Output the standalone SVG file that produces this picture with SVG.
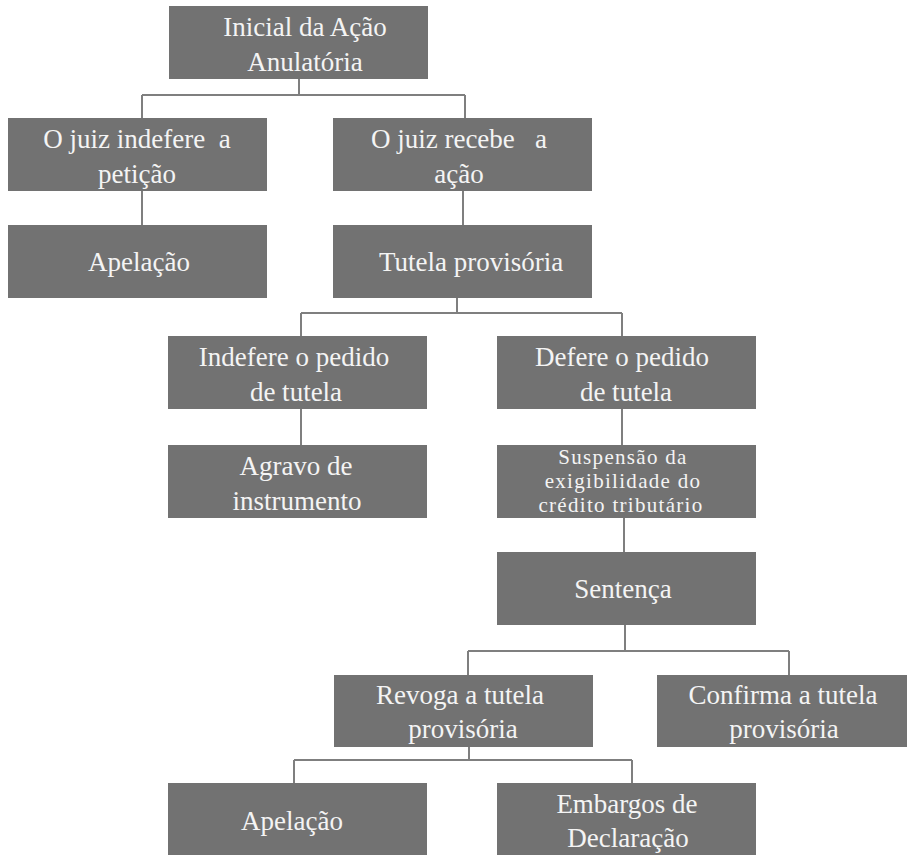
<svg xmlns="http://www.w3.org/2000/svg" width="907" height="855" viewBox="0 0 907 855">
<style>
.box{fill:#727272}
.t{font-family:"Liberation Serif","DejaVu Serif",serif;font-size:27px;fill:#f4f4f4;text-anchor:middle;white-space:pre}
.s{font-family:"Liberation Serif","DejaVu Serif",serif;font-size:21px;fill:#f4f4f4;text-anchor:middle;letter-spacing:1.3px}
.c{fill:none;stroke:#7f7f7f;stroke-width:2}
</style>
<rect width="907" height="855" fill="#ffffff"/>
<g id="connectors" class="c">
<path d="M299,79V95M142,95H465M142,95V118M465,95V118"/>
<path d="M142,191V225"/>
<path d="M463,191V225"/>
<path d="M457,298V313M301,313H622M301,313V336M622,313V336"/>
<path d="M301,409V445"/>
<path d="M622,409V445"/>
<path d="M624,518V552"/>
<path d="M625,625V651M468,651H789M468,651V675M789,651V675"/>
<path d="M469,747V760M294,760H632M294,760V783M632,760V783"/>
</g>
<g id="n1"><rect class="box" x="169" y="6" width="259" height="73"/><text class="t" x="305" y="36">Inicial da Ação</text><text class="t" x="305" y="71">Anulatória</text></g>
<g id="n2"><rect class="box" x="8" y="118" width="259" height="73"/><text class="t" x="137" y="148" xml:space="preserve">O juiz indefere  a</text><text class="t" x="137" y="183">petição</text></g>
<g id="n3"><rect class="box" x="333" y="118" width="259" height="73"/><text class="t" x="459" y="148" xml:space="preserve">O juiz recebe   a</text><text class="t" x="459" y="183">ação</text></g>
<g id="n4"><rect class="box" x="8" y="225" width="259" height="73"/><text class="t" x="139" y="271">Apelação</text></g>
<g id="n5"><rect class="box" x="333" y="225" width="259" height="73"/><text class="t" x="471" y="271">Tutela provisória</text></g>
<g id="n6"><rect class="box" x="168" y="336" width="259" height="73"/><text class="t" x="294" y="366">Indefere o pedido</text><text class="t" x="296" y="401">de tutela</text></g>
<g id="n7"><rect class="box" x="497" y="336" width="259" height="73"/><text class="t" x="622" y="366">Defere o pedido</text><text class="t" x="626" y="401">de tutela</text></g>
<g id="n8"><rect class="box" x="168" y="445" width="259" height="73"/><text class="t" x="296" y="475">Agravo de</text><text class="t" x="297" y="510">instrumento</text></g>
<g id="n9"><rect class="box" x="497" y="445" width="259" height="73"/><text class="s" x="623" y="464">Suspensão da</text><text class="s" x="623" y="488">exigibilidade do</text><text class="s" x="621" y="512">crédito tributário</text></g>
<g id="n10"><rect class="box" x="497" y="552" width="259" height="73"/><text class="t" x="623" y="598">Sentença</text></g>
<g id="n11"><rect class="box" x="334" y="675" width="259" height="72"/><text class="t" x="460" y="704">Revoga a tutela</text><text class="t" x="463" y="738">provisória</text></g>
<g id="n12"><rect class="box" x="657" y="675" width="250" height="72"/><text class="t" x="783" y="704">Confirma a tutela</text><text class="t" x="784" y="738">provisória</text></g>
<g id="n13"><rect class="box" x="168" y="783" width="259" height="72"/><text class="t" x="292" y="830">Apelação</text></g>
<g id="n14"><rect class="box" x="497" y="783" width="259" height="72"/><text class="t" x="627" y="813">Embargos de</text><text class="t" x="628" y="847">Declaração</text></g>
</svg>
